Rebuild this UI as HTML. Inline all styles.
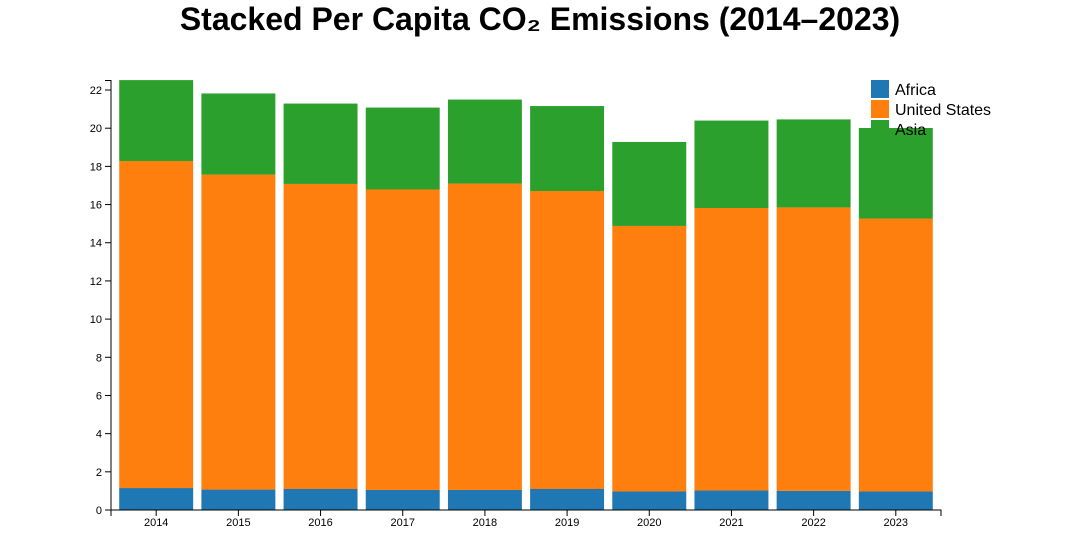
<!DOCTYPE html>
<html><head><meta charset="utf-8">
<style>
html,body{margin:0;padding:0;background:#fff;}
svg{display:block;font-family:"Liberation Sans",sans-serif;}
</style></head>
<body>
<svg id="chart" width="1081" height="559">
<text x="540" y="30" text-anchor="middle" font-size="32" font-weight="bold">Stacked Per Capita CO₂ Emissions (2014–2023)</text>
</svg>
<script>
const years=["2014","2015","2016","2017","2018","2019","2020","2021","2022","2023"];
const africa=[1.15,1.07,1.10,1.05,1.05,1.10,0.97,1.02,1.00,0.97];
const unitedStates=[17.13,16.50,15.98,15.74,16.05,15.61,13.91,14.80,14.85,14.30];
const asia=[4.24,4.25,4.21,4.29,4.40,4.45,4.40,4.58,4.61,4.74];
const yTicks=[0,2,4,6,8,10,12,14,16,18,20,22];
const seriesNames=["Africa","United States","Asia"];
const colors=["#1f77b4","#ff7f0e","#2ca02c"];
const NS="http://www.w3.org/2000/svg";
const svg=document.getElementById('chart');
const x0=111,x1=941,y0=510,pxPerUnit=19.09;
const step=(x1-x0)/(years.length-0.1+0.2),bw=step*0.9;
const xs=i=>x0+step*0.1+i*step;
const ys=v=>y0-v*pxPerUnit;
function mk(tag,attrs){const e=document.createElementNS(NS,tag);for(const k in attrs)e.setAttribute(k,attrs[k]);svg.appendChild(e);return e;}
const series=[africa,unitedStates,asia];
years.forEach((yr,i)=>{
  let base=0;
  series.forEach((s,j)=>{
    const r=mk('rect',{x:xs(i),y:ys(base+s[i]),width:bw,height:s[i]*pxPerUnit,fill:colors[j]});
    
    
    base+=s[i];
  });
});
// axes
const xa=mk('path',{d:`M${x0},${y0+6}V${y0}H${x1}V${y0+6}`,stroke:'#000',fill:'none'});


years.forEach((yr,i)=>{
  const cx=xs(i)+bw/2;
  mk('line',{x1:cx,x2:cx,y1:y0,y2:y0+6,stroke:'#000'});
  const t=mk('text',{x:cx,y:y0+16,'text-anchor':'middle','font-size':11});
  t.textContent=yr;
  
  
});
const ya=mk('path',{d:`M${x0-6},${ys(22.5)}H${x0}V${y0}H${x0-6}`,stroke:'#000',fill:'none'});


yTicks.forEach(v=>{
  mk('line',{x1:x0-6,x2:x0,y1:ys(v),y2:ys(v),stroke:'#000'});
  const t=mk('text',{x:x0-9,y:ys(v)+4,'text-anchor':'end','font-size':11});
  t.textContent=v;
  
  
});
seriesNames.forEach((n,j)=>{
  const r=mk('rect',{x:871,y:80+j*20,width:18,height:18,fill:colors[j]});
  
  
  const t=mk('text',{x:895,y:95+j*20,'font-size':16});
  t.textContent=n;
  
  
});
</script>
</body></html>
